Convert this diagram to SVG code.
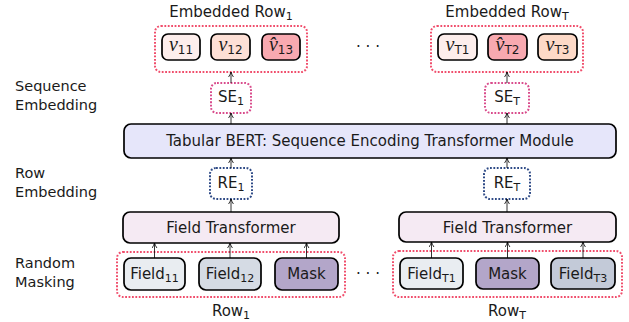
<svg xmlns="http://www.w3.org/2000/svg" width="629" height="322" viewBox="0 0 629 322">
<defs>
<marker id="arr" viewBox="0 0 6 6" refX="5.5" refY="3" markerWidth="6" markerHeight="6" markerUnits="userSpaceOnUse" orient="auto">
<path d="M0.5,0.6 Q3,2.2 5.5,3 Q3,3.8 0.5,5.4" fill="none" stroke="#000" stroke-width="0.8"/>
</marker>
<style>
text{font-family:"DejaVu Sans","Liberation Sans",sans-serif;fill:#1a1a1a}
.lbl{font-size:14.5px}
.bx{font-size:15px;text-anchor:middle}
.sub{font-size:11px}
.msub{font-size:12px}
.mv{font-family:"Liberation Serif","DejaVu Serif",serif;font-style:italic;font-size:20px}
.node{stroke:#000;stroke-width:1.7}
.cont{fill:none;stroke:#f04e6c;stroke-width:2;stroke-dasharray:1.8 1.6}
.se{fill:#fff;stroke:#d94c8c;stroke-width:2;stroke-dasharray:1.8 1.6}
.re{fill:#fff;stroke:#2e4a86;stroke-width:2;stroke-dasharray:1.8 1.6}
.conn line{stroke:#000;stroke-width:0.8;marker-end:url(#arr)}
</style>
</defs>
<rect width="629" height="322" fill="#fff"/>

<g id="side-labels">
<text class="lbl" x="15" y="91">Sequence</text>
<text class="lbl" x="15" y="110">Embedding</text>
<text class="lbl" x="15" y="178">Row</text>
<text class="lbl" x="15" y="197">Embedding</text>
<text class="lbl" x="15" y="268">Random</text>
<text class="lbl" x="15" y="287">Masking</text>
</g>

<g id="embedded-row-1">
<text class="bx" x="231" y="17">Embedded Row<tspan class="sub" dy="3">1</tspan></text>
<rect class="cont" x="155" y="26" width="152" height="46" rx="6"/>
</g>
<g id="v11"><rect class="node" x="162" y="34" width="38" height="26" rx="6" fill="#fdeeec"/>
<text class="bx" x="181" y="51"><tspan class="mv">v</tspan><tspan class="msub" dy="3">11</tspan></text></g>
<g id="v12"><rect class="node" x="211" y="34" width="39" height="26" rx="6" fill="#fde0d6"/>
<text class="bx" x="230.5" y="51"><tspan class="mv">v</tspan><tspan class="msub" dy="3">12</tspan></text></g>
<g id="v13"><rect class="node" x="262" y="34" width="38" height="26" rx="6" fill="#f8a9b0"/>
<text class="bx" x="281" y="51"><tspan class="mv">v̂</tspan><tspan class="msub" dy="3">13</tspan></text></g>

<g id="embedded-row-T">
<text class="bx" x="507" y="17">Embedded Row<tspan class="sub" dy="3">T</tspan></text>
<rect class="cont" x="431" y="26" width="152" height="46" rx="6"/>
</g>
<g id="vT1"><rect class="node" x="438" y="34" width="39" height="26" rx="6" fill="#fdeeec"/>
<text class="bx" x="457.5" y="51"><tspan class="mv">v</tspan><tspan class="msub" dy="3">T1</tspan></text></g>
<g id="vT2"><rect class="node" x="488" y="34" width="39" height="26" rx="6" fill="#f8a9b0"/>
<text class="bx" x="507.5" y="51"><tspan class="mv">v̂</tspan><tspan class="msub" dy="3">T2</tspan></text></g>
<g id="vT3"><rect class="node" x="538" y="34" width="39" height="26" rx="6" fill="#fdd9c7"/>
<text class="bx" x="557.5" y="51"><tspan class="mv">v</tspan><tspan class="msub" dy="3">T3</tspan></text></g>

<text class="bx" x="368" y="52">· · ·</text>

<g id="SE1"><rect class="se" x="211" y="83" width="40" height="30" rx="6"/>
<text class="bx" x="231" y="102">SE<tspan class="sub" dy="3">1</tspan></text></g>
<g id="SET"><rect class="se" x="485" y="83" width="44" height="30" rx="6"/>
<text class="bx" x="507" y="102">SE<tspan class="sub" dy="3">T</tspan></text></g>

<g id="bert"><rect class="node" x="124" y="124" width="492" height="34" rx="7" fill="#e6e6fa"/>
<text class="bx" x="370" y="146">Tabular BERT: Sequence Encoding Transformer Module</text></g>

<g id="RE1"><rect class="re" x="210" y="168" width="42" height="31" rx="6"/>
<text class="bx" x="231" y="188">RE<tspan class="sub" dy="3">1</tspan></text></g>
<g id="RET"><rect class="re" x="484" y="168" width="46" height="31" rx="6"/>
<text class="bx" x="507" y="188">RE<tspan class="sub" dy="3">T</tspan></text></g>

<g id="ft1"><rect class="node" x="123" y="212" width="216" height="31" rx="7" fill="#f5eaf3"/>
<text class="bx" x="231" y="233">Field Transformer</text></g>
<g id="ftT"><rect class="node" x="399" y="212" width="217" height="30" rx="7" fill="#f5eaf3"/>
<text class="bx" x="507.5" y="233">Field Transformer</text></g>

<g id="row-1">
<rect class="cont" x="117" y="252" width="228" height="45" rx="6"/>
<text class="bx" x="231" y="316">Row<tspan class="sub" dy="3">1</tspan></text>
</g>
<g id="field11"><rect class="node" x="124" y="258" width="61" height="32" rx="7" fill="#e9edf1"/>
<text class="bx" x="154.5" y="279">Field<tspan class="sub" dy="3">11</tspan></text></g>
<g id="field12"><rect class="node" x="199" y="258" width="62" height="32" rx="7" fill="#d5dbe4"/>
<text class="bx" x="230" y="279">Field<tspan class="sub" dy="3">12</tspan></text></g>
<g id="mask1"><rect class="node" x="275" y="258" width="63" height="32" rx="7" fill="#b3a6c9"/>
<text class="bx" x="306.5" y="279">Mask</text></g>

<text class="bx" x="368" y="279">· · ·</text>

<g id="row-T">
<rect class="cont" x="393" y="251" width="229" height="46" rx="6"/>
<text class="bx" x="507" y="316">Row<tspan class="sub" dy="3">T</tspan></text>
</g>
<g id="fieldT1"><rect class="node" x="400" y="258" width="63" height="31" rx="7" fill="#e9edf1"/>
<text class="bx" x="431.5" y="279">Field<tspan class="sub" dy="3">T1</tspan></text></g>
<g id="maskT"><rect class="node" x="476" y="258" width="63" height="31" rx="7" fill="#b3a6c9"/>
<text class="bx" x="507.5" y="279">Mask</text></g>
<g id="fieldT3"><rect class="node" x="551" y="258" width="64" height="31" rx="7" fill="#c3cad8"/>
<text class="bx" x="583" y="279">Field<tspan class="sub" dy="3">T3</tspan></text></g>

<g id="connectors" class="conn">
<line x1="154.5" y1="258" x2="154.5" y2="243"/>
<line x1="230" y1="258" x2="230" y2="243"/>
<line x1="306.5" y1="258" x2="306.5" y2="243"/>
<line x1="431.5" y1="258" x2="431.5" y2="242"/>
<line x1="507.5" y1="258" x2="507.5" y2="242"/>
<line x1="583" y1="258" x2="583" y2="242"/>
<line x1="231" y1="212" x2="231" y2="199"/>
<line x1="507" y1="212" x2="507" y2="199"/>
<line x1="231" y1="168" x2="231" y2="158"/>
<line x1="507" y1="168" x2="507" y2="158"/>
<line x1="231" y1="124" x2="231" y2="113"/>
<line x1="507" y1="124" x2="507" y2="113"/>
<line x1="231" y1="83" x2="231" y2="72"/>
<line x1="507" y1="83" x2="507" y2="72"/>
</g>
</svg>
